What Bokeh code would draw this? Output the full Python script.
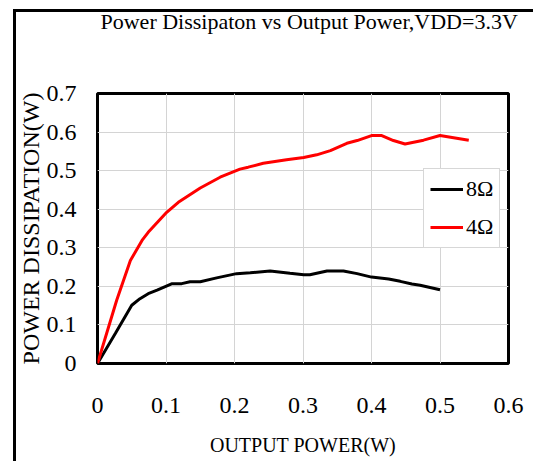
from bokeh.plotting import figure
from bokeh.models import FixedTicker, Legend, LegendItem, Range1d, Title
from bokeh.embed import file_html
from bokeh.resources import INLINE

# ---- data ----
x_8ohm = [0, 0.026, 0.05, 0.062, 0.074, 0.087, 0.109, 0.123, 0.135, 0.15, 0.174,
          0.203, 0.223, 0.252, 0.281, 0.301, 0.31, 0.335, 0.359, 0.379, 0.4,
          0.425, 0.442, 0.459, 0.471, 0.5]
y_8ohm = [0, 0.078, 0.151, 0.168, 0.181, 0.19, 0.207, 0.207, 0.212, 0.212, 0.222,
          0.233, 0.235, 0.24, 0.234, 0.23, 0.23, 0.24, 0.24, 0.233, 0.224,
          0.219, 0.213, 0.206, 0.203, 0.191]

x_4ohm = [0, 0.028, 0.048, 0.065, 0.074, 0.101, 0.118, 0.15, 0.179, 0.208, 0.22,
          0.242, 0.276, 0.301, 0.32, 0.34, 0.364, 0.379, 0.4, 0.415, 0.432,
          0.449, 0.476, 0.5, 0.542]
y_4ohm = [0, 0.164, 0.267, 0.319, 0.34, 0.392, 0.418, 0.455, 0.483, 0.504, 0.509,
          0.519, 0.528, 0.534, 0.541, 0.552, 0.571, 0.578, 0.591, 0.591, 0.578,
          0.569, 0.579, 0.591, 0.579]

series_labels = ["8Ω", "4Ω"]
x_ticks = [0, 0.1, 0.2, 0.3, 0.4, 0.5, 0.6]
x_tick_labels = ["0", "0.1", "0.2", "0.3", "0.4", "0.5", "0.6"]
y_ticks = [0, 0.1, 0.2, 0.3, 0.4, 0.5, 0.6, 0.7]
y_tick_labels = ["0", "0.1", "0.2", "0.3", "0.4", "0.5", "0.6", "0.7"]

title_text = "Power Dissipaton vs Output Power,VDD=3.3V"
x_title = "OUTPUT POWER(W)"
y_title = "POWER DISSIPATION(W)"

FONT = "Liberation Serif"

p = figure(frame_width=411, frame_height=270,
           x_range=Range1d(0, 0.6), y_range=Range1d(0, 0.7),
           output_backend="svg", toolbar_location=None,
           min_border_left=92, min_border_right=25,
           min_border_top=92, min_border_bottom=98)

p.background_fill_color = "white"
p.border_fill_color = None
p.outline_line_color = "black"
p.outline_line_width = 3

r8 = p.line(x_8ohm, y_8ohm, line_color="black", line_width=3)
r4 = p.line(x_4ohm, y_4ohm, line_color="#ff0000", line_width=3)

p.xaxis.ticker = FixedTicker(ticks=x_ticks)
p.yaxis.ticker = FixedTicker(ticks=y_ticks)
p.xaxis.major_label_overrides = dict(zip(x_ticks, x_tick_labels))
p.yaxis.major_label_overrides = dict(zip(y_ticks, y_tick_labels))

for ax in (p.xaxis[0], p.yaxis[0]):
    ax.axis_line_color = None
    ax.major_tick_line_color = None
    ax.minor_tick_line_color = None
    ax.major_label_text_font = FONT
    ax.major_label_text_font_size = "24px"
    ax.major_label_text_color = "black"
    ax.axis_label_text_font = FONT
    ax.axis_label_text_font_style = "normal"
    ax.axis_label_text_color = "black"

p.xaxis.axis_label = x_title
p.xaxis.axis_label_text_font_size = "20px"
p.xaxis.major_label_standoff = 28
p.xaxis.axis_label_standoff = 18

p.yaxis.axis_label = y_title
p.yaxis.axis_label_text_font_size = "24px"
p.yaxis.major_label_standoff = 15
p.yaxis.axis_label_standoff = 0

p.xgrid.grid_line_color = "#d4d4d4"
p.ygrid.grid_line_color = "#d4d4d4"
p.xgrid.grid_line_width = 1
p.ygrid.grid_line_width = 1

legend = Legend(items=[LegendItem(label=series_labels[0], renderers=[r8]),
                       LegendItem(label=series_labels[1], renderers=[r4])],
                location=(326, 115))
legend.label_text_font = FONT
legend.label_text_font_size = "22px"
legend.label_text_color = "black"
legend.glyph_width = 33
legend.glyph_height = 28
legend.label_height = 28
legend.label_width = 10
legend.label_standoff = 3
legend.spacing = 10
legend.padding = 6
legend.margin = 0
legend.border_line_color = "#b0b0b0"
legend.border_line_width = 1
legend.background_fill_color = "white"
legend.background_fill_alpha = 1
p.add_layout(legend)

# spacer between the title and the plot frame
spacer = Title(text=" ", text_font=FONT, text_font_size="22px", standoff=32)
p.add_layout(spacer, "above")

p.title.text = title_text
p.title.text_font = FONT
p.title.text_font_size = "22px"
p.title.text_font_style = "normal"
p.title.text_color = "black"
p.title.align = "left"
p.title.offset = 3
p.title.standoff = 1

# outer chart-area border (left and top edges), painted behind the transparent canvas
p.styles = {
    "margin-left": "5px",
    "margin-top": "1px",
    "background-image": "linear-gradient(#000, #000), linear-gradient(#000, #000)",
    "background-size": "100% 3px, 3px 100%",
    "background-position": "8px 8px, 8px 8px",
    "background-repeat": "no-repeat",
}

open("out.html", "w").write(file_html(p, INLINE))
